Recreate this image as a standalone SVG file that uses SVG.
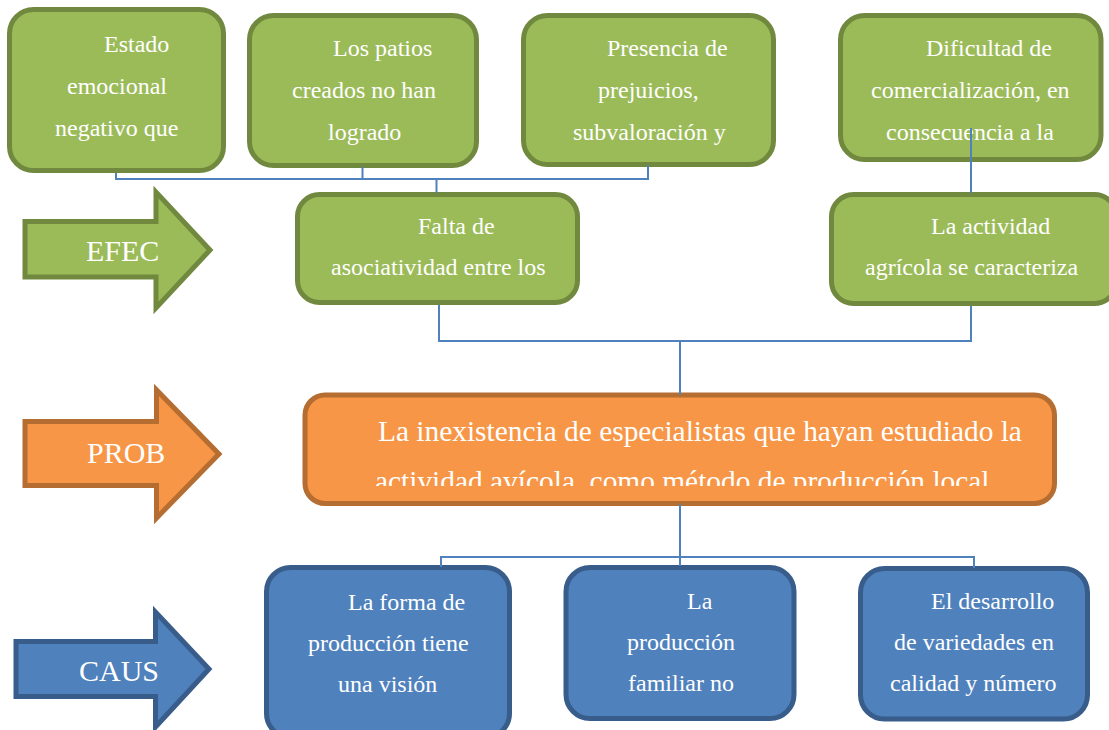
<svg xmlns="http://www.w3.org/2000/svg" width="1109" height="730" viewBox="0 0 1109 730">
<style>
.g{fill:#9BBB59;stroke:#71893F;stroke-width:5}
.o{fill:#F79646;stroke:#B66D31;stroke-width:5}
.b{fill:#4F81BD;stroke:#385D8A;stroke-width:5}
text{font-family:"Liberation Serif","Times New Roman",serif;fill:#fff}
.t{font-size:24px}
.a{font-size:30px}
.p{font-size:29.4px}
.c{fill:none;stroke:#4F81BD;stroke-width:2}
</style>
<defs>
<clipPath id="pc"><rect x="305" y="395" width="750" height="91"/></clipPath>
</defs>
<rect width="1109" height="730" fill="#fff"/>
<g id="arrow-efec"><path class="g" d="M25,221.5 H156 V192 L210,250 L156,308 V277 H25 Z"/><text class="a" x="86" y="261">EFEC</text></g>
<g id="arrow-prob"><path class="o" d="M25,421.5 H156.5 V390 L219,454 L156.5,518 V485.5 H25 Z"/><text class="a" x="87" y="463">PROB</text></g>
<g id="arrow-caus"><path class="b" d="M16,641.5 H155.5 V612 L209,669 L155.5,727 V696.5 H16 Z"/><text class="a" x="79" y="681">CAUS</text></g>
<g id="n1"><rect class="g" x="9.5" y="9.5" width="214" height="161" rx="24"/><text class="t"><tspan x="104" y="52">Estado</tspan><tspan x="67" y="94">emocional</tspan><tspan x="55" y="136">negativo que</tspan></text></g>
<g id="n2"><rect class="g" x="249.5" y="15.5" width="227" height="150" rx="24"/><text class="t"><tspan x="333" y="56">Los patios</tspan><tspan x="292" y="98">creados no han</tspan><tspan x="328" y="140">logrado</tspan></text></g>
<g id="n3"><rect class="g" x="523.5" y="15.5" width="250" height="149" rx="24"/><text class="t"><tspan x="607" y="56">Presencia de</tspan><tspan x="598" y="98">prejuicios,</tspan><tspan x="573" y="140">subvaloración y</tspan></text></g>
<g id="n4"><rect class="g" x="840.5" y="15.5" width="260.5" height="144" rx="24"/><text class="t"><tspan x="926" y="56">Dificultad de</tspan><tspan x="871" y="98">comercialización, en</tspan><tspan x="886" y="140">consecuencia a la</tspan></text></g>
<g id="n5"><rect class="g" x="297.5" y="194.5" width="280" height="108" rx="22"/><text class="t"><tspan x="418" y="234">Falta de</tspan><tspan x="331" y="275">asociatividad entre los</tspan></text></g>
<g id="n6"><rect class="g" x="831.5" y="194.5" width="285" height="109" rx="22"/><text class="t"><tspan x="931" y="234">La actividad</tspan><tspan x="865" y="275">agrícola se caracteriza</tspan></text></g>
<g id="n7"><rect class="o" x="305" y="395" width="749.5" height="108.5" rx="20"/><text class="p" clip-path="url(#pc)"><tspan x="378" y="441">La inexistencia de especialistas que hayan estudiado la</tspan><tspan x="375" y="491">actividad avícola, como método de producción local</tspan></text></g>
<g id="n8"><rect class="b" x="266.5" y="567.5" width="243" height="170" rx="24"/><text class="t"><tspan x="348" y="610">La forma de</tspan><tspan x="308" y="651">producción tiene</tspan><tspan x="338" y="692">una visión</tspan></text></g>
<g id="n9"><rect class="b" x="566" y="567.5" width="228" height="151" rx="24"/><text class="t"><tspan x="687" y="609">La</tspan><tspan x="627" y="650">producción</tspan><tspan x="628" y="691">familiar no</tspan></text></g>
<g id="n10"><rect class="b" x="860.5" y="568.5" width="227" height="150.5" rx="24"/><text class="t"><tspan x="931" y="609">El desarrollo</tspan><tspan x="894" y="650">de variedades en</tspan><tspan x="890" y="691">calidad y número</tspan></text></g>
<g id="connectors">
<path class="c" d="M116,173 V179 H648 V165 M362.5,167 V179 M436.5,179 V193"/>
<path class="c" d="M971,128 V193"/>
<path class="c" d="M439,305 V341 H971 V306 M680,341 V395"/>
<path class="c" d="M680,504 V566 M441,567 V557 H974 V568"/>
</g>
</svg>
